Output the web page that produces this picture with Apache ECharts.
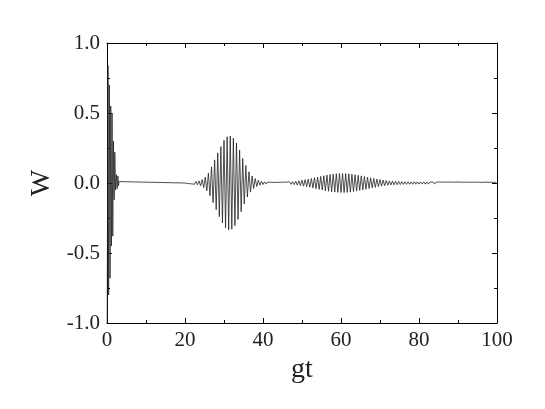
<!DOCTYPE html>
<html>
<head>
<meta charset="utf-8">
<script src="https://cdn.jsdelivr.net/npm/echarts@6/dist/echarts.min.js"></script>
<style>
  html, body { margin: 0; padding: 0; background: #fff; }
  #chart { width: 545px; height: 409px; }
</style>
</head>
<body>
<div id="chart"></div>
<script>
// initial collapse, read as [gt, W] pairs
var collapseData = [
  [0.05, -1.0], [0.25, 0.84], [0.42, -0.8], [0.6, 0.7], [0.78, -0.68], [0.96, 0.55],
  [1.14, -0.45], [1.3, 0.5], [1.48, -0.38], [1.66, 0.3], [1.84, -0.12], [2.0, 0.22],
  [2.2, -0.05], [2.4, 0.06], [2.6, -0.04], [2.8, 0.05], [2.95, -0.02], [3.1, 0.01],
  [3.3, 0], [20.0, 0]
];

// peak values, one every half period (0.4 in gt)
var halfPeriod = 0.4;

var revival1Start = 20.4;
var revival1W = [
  0.003, -0.004, 0.005, -0.006, 0.008, -0.009, 0.011, -0.013, 0.015, -0.02,
  0.025, -0.033, 0.042, -0.055, 0.07, -0.09, 0.115, -0.14, 0.165, -0.19,
  0.215, -0.24, 0.26, -0.285, 0.305, -0.32, 0.33, -0.335, 0.335, -0.33,
  0.32, -0.305, 0.285, -0.26, 0.235, -0.205, 0.175, -0.15, 0.125, -0.10,
  0.08, -0.065, 0.05, -0.04, 0.032, -0.025, 0.02, -0.016, 0.013, -0.011,
  0.009, -0.008, 0.007, -0.006, 0.005
];

var revival2Start = 42.4;
var revival2W = [
  -0.004, 0.004, -0.004, 0.005, -0.005, 0.005, -0.005, 0.006, -0.006, 0.006,
  -0.007, 0.008, -0.009, 0.010, -0.012, 0.013, -0.015, 0.016, -0.018, 0.020,
  -0.022, 0.024, -0.026, 0.028, -0.030, 0.032, -0.035, 0.037, -0.040, 0.042,
  -0.045, 0.047, -0.050, 0.052, -0.055, 0.057, -0.059, 0.061, -0.063, 0.064,
  -0.065, 0.066, -0.067, 0.068, -0.068, 0.068, -0.068, 0.067, -0.067, 0.066,
  -0.065, 0.063, -0.061, 0.059, -0.058, 0.055, -0.053, 0.051, -0.049, 0.047,
  -0.045, 0.042, -0.040, 0.037, -0.035, 0.033, -0.031, 0.028, -0.026, 0.024,
  -0.022, 0.021, -0.019, 0.018, -0.016, 0.015, -0.014, 0.014, -0.013, 0.012,
  -0.012, 0.011, -0.011, 0.010, -0.010
];

var tailStart = 76.4;
var tailW = [
  0.009, -0.010, 0.009, -0.009, 0.008, -0.009, 0.009, -0.008, 0.008, -0.008,
  0.008, -0.007, 0.008, -0.008, 0.007, -0.008, 0.007, -0.007, 0.007, -0.008,
  0.007, -0.007, 0.007, -0.006, 0.007, -0.007, 0.006, -0.007, 0.007, -0.006,
  0.006, -0.007, 0.006, -0.006, 0.007, -0.006, 0.006, -0.006, 0.006, -0.006,
  0.006, -0.006, 0.005, -0.006, 0.006, -0.005, 0.006, -0.006, 0.005, -0.006,
  0.005, -0.005, 0.006, -0.005, 0.005, -0.005, 0.005, -0.005, 0.005, -0.005
];

var xTicks = [0, 20, 40, 60, 80, 100];
var yTicks = [-1.0, -0.5, 0.0, 0.5, 1.0];

function peaks(start, values) {
  var out = [];
  for (var i = 0; i < values.length; i++) {
    out.push([+(start + i * halfPeriod).toFixed(2), values[i]]);
  }
  return out;
}

var seriesData = collapseData
  .concat(peaks(revival1Start, revival1W))
  .concat(peaks(revival2Start, revival2W))
  .concat(peaks(tailStart, tailW));

var font = 'Liberation Serif';
var axisLine = { show: true, onZero: false, lineStyle: { color: '#000', width: 1 } };
var tick = { show: true, inside: true, length: 5, lineStyle: { color: '#000' } };
var minor = { show: true, splitNumber: 2, length: 3, lineStyle: { color: '#000' } };

var chart = echarts.init(document.getElementById('chart'));
chart.setOption({
  animation: false,
  backgroundColor: '#fff',
  grid: { left: 107, right: 48, top: 43, bottom: 86 },
  xAxis: [
    {
      type: 'value', min: xTicks[0], max: xTicks[xTicks.length - 1], interval: 20,
      name: 'gt', nameLocation: 'middle', nameGap: 27,
      nameTextStyle: { fontFamily: font, fontSize: 28, color: '#222' },
      axisLine: axisLine, axisTick: tick, minorTick: minor,
      splitLine: { show: false },
      axisLabel: { fontFamily: font, fontSize: 21, color: '#222', margin: 7 }
    },
    {
      type: 'value', position: 'top', min: xTicks[0], max: xTicks[xTicks.length - 1], interval: 20,
      axisLine: axisLine, axisTick: tick, minorTick: minor,
      splitLine: { show: false }, axisLabel: { show: false }
    }
  ],
  yAxis: [
    {
      type: 'value', min: yTicks[0], max: yTicks[yTicks.length - 1], interval: 0.5,
      name: 'W', nameLocation: 'middle', nameGap: 50, nameRotate: 90,
      nameTextStyle: { fontFamily: font, fontSize: 28, color: '#222' },
      axisLine: axisLine, axisTick: tick, minorTick: minor,
      splitLine: { show: false },
      axisLabel: {
        fontFamily: font, fontSize: 21, color: '#222', margin: 7,
        formatter: function (v) { return v.toFixed(1); }
      }
    },
    {
      type: 'value', position: 'right', min: yTicks[0], max: yTicks[yTicks.length - 1], interval: 0.5,
      axisLine: axisLine, axisTick: tick, minorTick: minor,
      splitLine: { show: false }, axisLabel: { show: false }
    }
  ],
  series: [{
    type: 'line',
    data: seriesData,
    showSymbol: false,
    silent: true,
    sampling: null,
    lineStyle: { color: '#222', width: 0.8 }
  }]
});
</script>
</body>
</html>
